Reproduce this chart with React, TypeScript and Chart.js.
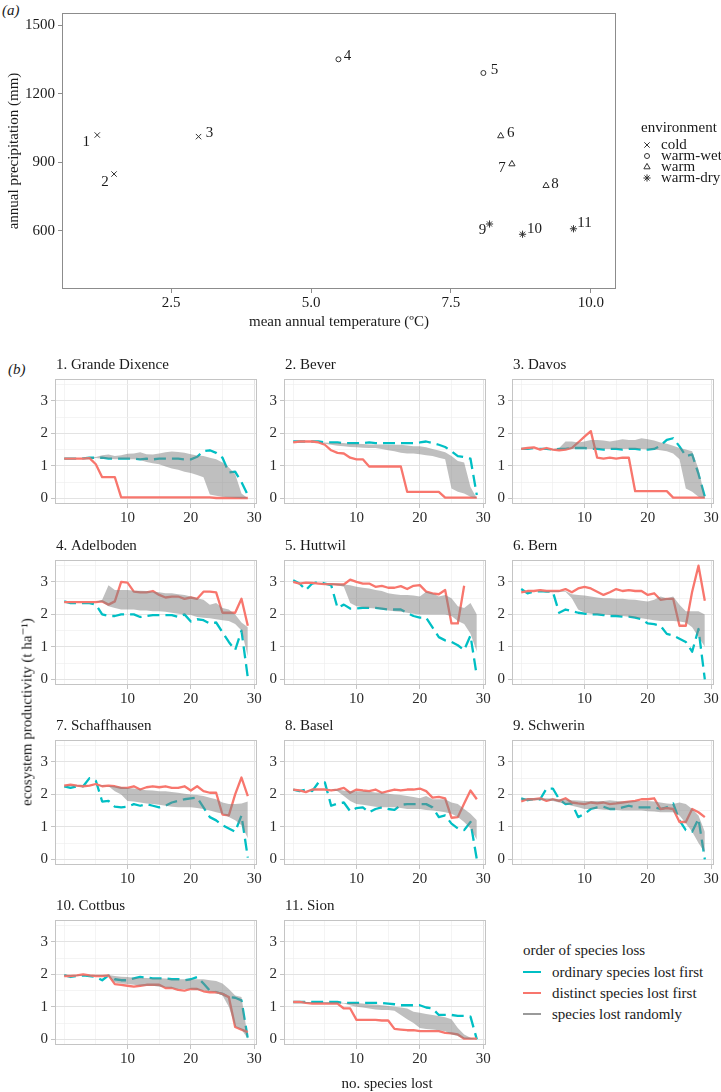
import React, { useEffect, useRef } from 'react';
import { Chart, registerables } from 'chart.js';
import { drawPoint } from 'chart.js/helpers';
Chart.register(...registerables);

const SERIF = '"Liberation Serif", "Times New Roman", Times, "DejaVu Serif", serif';
const FS = 15;
const TEAL = '#00BFC4';
const RED = '#F8766D';
const BAND = 'rgba(127,127,127,0.5)';
const INK = '#1a1a1a';
const TICK_INK = '#2b2b2b';

// ---------- panel (a) data ----------
const siteNumbers = ['1', '2', '3', '4', '5', '6', '7', '8', '9', '10', '11'];
const meanTemp = [1.18, 1.48, 2.99, 5.49, 8.08, 8.39, 8.59, 9.2, 8.19, 8.78, 9.69];
const annualPrecip = [1020, 849, 1013, 1352, 1292, 1016, 893, 798, 630, 585, 609];
const siteEnv = ['cold', 'cold', 'cold', 'warm-wet', 'warm-wet', 'warm', 'warm', 'warm', 'warm-dry', 'warm-dry', 'warm-dry'];
const envLevels = ['cold', 'warm-wet', 'warm', 'warm-dry'];
const tempTicks = [2.5, 5, 7.5, 10];
const tempTickLabels = ['2.5', '5.0', '7.5', '10.0'];
const precipTicks = [600, 900, 1200, 1500];

// ---------- panel (b) data ----------
const speciesLost = [0, 1, 2, 3, 4, 5, 6, 7, 8, 9, 10, 11, 12, 13, 14, 15, 16, 17, 18, 19, 20, 21, 22, 23, 24, 25, 26, 27, 28, 29];
const productivityTicks = [0, 1, 2, 3];
const speciesLostTicks = [10, 20, 30];
const panelTitles = ['1. Grande Dixence', '2. Bever', '3. Davos', '4. Adelboden', '5. Huttwil', '6. Bern', '7. Schaffhausen', '8. Basel', '9. Schwerin', '10. Cottbus', '11. Sion'];
const lossOrders = ['ordinary species lost first', 'distinct species lost first', 'species lost randomly'];

const grandeDixenceOrdinary = [1.22, 1.22, 1.22, 1.23, 1.25, 1.25, 1.25, 1.22, 1.22, 1.22, 1.22, 1.22, 1.2, 1.22, 1.2, 1.22, 1.22, 1.22, 1.22, 1.2, 1.2, 1.28, 1.45, 1.48, 1.4, 1.25, 0.8, 0.82, 0.5, 0.1];
const grandeDixenceDistinct = [1.22, 1.22, 1.22, 1.22, 1.24, 1.05, 0.65, 0.65, 0.65, 0.03, 0.03, 0.03, 0.03, 0.03, 0.03, 0.03, 0.03, 0.03, 0.03, 0.03, 0.03, 0.03, 0.03, 0.03, 0.01, 0.01, 0.01, 0.01, 0.01, 0.01];
const grandeDixenceRandomLow = [1.22, 1.22, 1.22, 1.22, 1.22, 1.24, 1.22, 1.22, 1.2, 1.2, 1.2, 1.2, 1.18, 1.12, 1.08, 1.05, 0.98, 0.92, 0.88, 0.82, 0.78, 0.72, 0.65, 0.12, 0.08, 0.05, 0.03, 0.02, 0.0, 0.0];
const grandeDixenceRandomHigh = [1.22, 1.22, 1.22, 1.22, 1.25, 1.27, 1.33, 1.35, 1.3, 1.33, 1.37, 1.38, 1.42, 1.36, 1.35, 1.38, 1.42, 1.44, 1.43, 1.4, 1.36, 1.32, 1.3, 1.25, 1.2, 1.1, 0.95, 0.75, 0.15, 0.0];

const beverOrdinary = [1.75, 1.75, 1.75, 1.75, 1.75, 1.72, 1.72, 1.72, 1.7, 1.7, 1.7, 1.7, 1.72, 1.7, 1.7, 1.7, 1.7, 1.7, 1.7, 1.7, 1.72, 1.75, 1.7, 1.65, 1.58, 1.45, 1.3, 1.27, 1.22, 0.1];
const beverDistinct = [1.72, 1.75, 1.75, 1.75, 1.72, 1.65, 1.48, 1.4, 1.38, 1.25, 1.2, 1.2, 0.98, 0.98, 0.98, 0.98, 0.98, 0.98, 0.2, 0.2, 0.2, 0.2, 0.2, 0.2, 0.02, 0.02, 0.02, 0.02, 0.02, 0.02];
const beverRandomLow = [1.72, 1.75, 1.75, 1.75, 1.72, 1.68, 1.65, 1.62, 1.6, 1.58, 1.57, 1.56, 1.55, 1.55, 1.52, 1.48, 1.45, 1.4, 1.38, 1.38, 1.36, 1.33, 1.3, 1.25, 1.2, 0.3, 0.2, 0.15, 0.05, 0.0];
const beverRandomHigh = [1.72, 1.75, 1.75, 1.75, 1.72, 1.72, 1.7, 1.7, 1.7, 1.68, 1.68, 1.67, 1.66, 1.66, 1.66, 1.65, 1.65, 1.65, 1.63, 1.6, 1.6, 1.57, 1.52, 1.47, 1.42, 1.3, 1.15, 1.1, 0.35, 0.0];

const davosOrdinary = [1.52, 1.52, 1.55, 1.52, 1.52, 1.5, 1.52, 1.52, 1.55, 1.55, 1.55, 1.52, 1.52, 1.5, 1.52, 1.52, 1.5, 1.52, 1.52, 1.5, 1.5, 1.52, 1.62, 1.8, 1.85, 1.6, 1.3, 1.35, 0.75, 0.05];
const davosDistinct = [1.52, 1.55, 1.57, 1.5, 1.55, 1.5, 1.48, 1.5, 1.55, 1.72, 1.9, 2.07, 1.25, 1.22, 1.25, 1.22, 1.25, 1.25, 0.22, 0.22, 0.22, 0.22, 0.22, 0.22, 0.02, 0.02, 0.02, 0.02, 0.02, 0.02];
const davosRandomLow = [1.52, 1.52, 1.55, 1.52, 1.52, 1.5, 1.5, 1.5, 1.52, 1.52, 1.52, 1.52, 1.52, 1.52, 1.52, 1.52, 1.52, 1.52, 1.52, 1.52, 1.5, 1.5, 1.48, 1.45, 1.38, 1.2, 0.3, 0.2, 0.05, 0.0];
const davosRandomHigh = [1.52, 1.52, 1.55, 1.52, 1.52, 1.52, 1.55, 1.75, 1.75, 1.72, 1.75, 1.8, 1.8, 1.78, 1.75, 1.78, 1.82, 1.8, 1.8, 1.85, 1.82, 1.78, 1.72, 1.68, 1.62, 1.55, 1.5, 1.45, 0.9, 0.05];

const adelbodenOrdinary = [2.4, 2.35, 2.35, 2.35, 2.35, 2.3, 2.0, 1.95, 1.95, 2.0, 2.0, 2.0, 1.92, 1.95, 1.98, 1.98, 1.98, 1.98, 1.92, 2.0, 1.78, 1.85, 1.82, 1.72, 1.75, 1.45, 1.15, 0.9, 1.5, 0.05];
const adelbodenDistinct = [2.38, 2.38, 2.38, 2.38, 2.38, 2.38, 2.4, 2.3, 2.4, 3.0, 2.98, 2.7, 2.68, 2.68, 2.72, 2.6, 2.52, 2.55, 2.55, 2.48, 2.52, 2.48, 2.7, 2.7, 2.68, 2.05, 2.05, 2.05, 2.48, 1.65];
const adelbodenRandomLow = [2.38, 2.38, 2.38, 2.38, 2.38, 2.38, 2.38, 2.25, 2.2, 2.15, 2.15, 2.15, 2.12, 2.12, 2.1, 2.1, 2.08, 2.05, 2.02, 2.0, 1.98, 1.92, 1.9, 1.88, 1.85, 1.82, 1.8, 1.7, 1.5, 0.7];
const adelbodenRandomHigh = [2.38, 2.38, 2.38, 2.38, 2.38, 2.38, 2.45, 2.9, 2.75, 2.75, 2.75, 2.73, 2.73, 2.72, 2.7, 2.68, 2.65, 2.65, 2.62, 2.6, 2.55, 2.5, 2.45, 2.3, 2.35, 2.2, 2.15, 2.0, 1.75, 1.6];

const huttwilOrdinary = [3.05, 2.95, 2.75, 2.95, 3.0, 2.95, 2.9, 2.2, 2.3, 2.18, 2.18, 2.2, 2.2, 2.2, 2.18, 2.15, 2.15, 2.15, 2.05, 1.95, 1.9, 1.9, 1.6, 1.3, 1.2, 1.15, 1.05, 0.9, 1.35, 0.1];
const huttwilDistinct = [3.0, 2.95, 2.98, 2.97, 2.95, 2.93, 2.93, 2.92, 2.92, 3.07, 3.0, 2.95, 2.95, 2.85, 2.88, 2.82, 2.82, 2.87, 2.78, 2.88, 2.9, 2.7, 2.65, 2.62, 2.75, 1.72, 1.72, 2.88, null, null];
const huttwilRandomLow = [3.0, 2.97, 2.97, 2.96, 2.95, 2.93, 2.92, 2.9, 2.85, 2.35, 2.25, 2.22, 2.2, 2.18, 2.15, 2.12, 2.1, 2.08, 2.05, 2.02, 2.0, 2.0, 2.0, 2.0, 2.0, 1.95, 1.8, 1.7, 1.4, 0.85];
const huttwilRandomHigh = [3.0, 2.97, 2.97, 2.96, 2.95, 2.95, 2.95, 2.95, 2.92, 2.9, 2.85, 2.82, 2.8, 2.75, 2.72, 2.65, 2.62, 2.6, 2.6, 2.58, 2.55, 2.7, 2.65, 2.55, 2.6, 2.5, 2.25, 2.2, 2.35, 2.0];

const bernOrdinary = [2.78, 2.65, 2.7, 2.72, 2.7, 2.7, 2.05, 2.15, 2.1, 2.05, 2.02, 2.0, 2.0, 1.98, 1.95, 1.95, 1.93, 1.93, 1.9, 1.85, 1.72, 1.7, 1.65, 1.4, 1.35, 1.25, 1.15, 0.85, 1.55, 0.0];
const bernDistinct = [2.68, 2.72, 2.72, 2.75, 2.72, 2.72, 2.72, 2.78, 2.68, 2.8, 2.85, 2.8, 2.7, 2.6, 2.68, 2.78, 2.72, 2.75, 2.72, 2.72, 2.6, 2.65, 2.45, 2.48, 2.48, 1.65, 1.65, 2.7, 3.5, 2.42];
const bernRandomLow = [2.72, 2.7, 2.7, 2.72, 2.7, 2.7, 2.7, 2.7, 2.5, 2.15, 2.05, 2.02, 2.0, 2.0, 1.98, 1.97, 1.95, 1.93, 1.9, 1.88, 1.85, 1.82, 1.8, 1.8, 1.8, 1.78, 1.75, 1.6, 1.3, 1.0];
const bernRandomHigh = [2.72, 2.7, 2.7, 2.72, 2.72, 2.72, 2.72, 2.72, 2.62, 2.6, 2.58, 2.55, 2.52, 2.5, 2.5, 2.48, 2.48, 2.46, 2.45, 2.42, 2.4, 2.45, 2.55, 2.5, 2.55, 2.3, 2.1, 2.1, 2.1, 2.0];

const schaffhausenOrdinary = [2.25, 2.2, 2.25, 2.25, 2.5, 2.42, 1.78, 1.8, 1.62, 1.6, 1.62, 1.7, 1.65, 1.7, 1.65, 1.6, 1.65, 1.75, 1.8, 1.85, 1.88, 1.9, 1.6, 1.3, 1.2, 1.05, 0.95, 0.85, 1.35, 0.05];
const schaffhausenDistinct = [2.27, 2.3, 2.27, 2.25, 2.27, 2.32, 2.25, 2.27, 2.25, 2.2, 2.2, 2.25, 2.15, 2.22, 2.25, 2.22, 2.25, 2.2, 2.2, 2.25, 2.12, 2.25, 2.1, 2.05, 2.05, 1.38, 1.35, 2.0, 2.52, 1.95];
const schaffhausenRandomLow = [2.27, 2.25, 2.25, 2.25, 2.27, 2.27, 2.25, 2.25, 2.1, 2.0, 1.8, 1.78, 1.75, 1.72, 1.7, 1.68, 1.65, 1.62, 1.6, 1.6, 1.6, 1.58, 1.55, 1.5, 1.45, 1.4, 1.3, 1.2, 1.05, 0.65];
const schaffhausenRandomHigh = [2.27, 2.27, 2.27, 2.27, 2.27, 2.27, 2.27, 2.26, 2.25, 2.23, 2.2, 2.18, 2.15, 2.13, 2.12, 2.1, 2.1, 2.07, 2.05, 2.02, 2.0, 1.98, 1.95, 1.9, 1.85, 1.75, 1.7, 1.7, 1.72, 1.78];

const baselOrdinary = [2.15, 2.1, 2.15, 2.1, 2.37, 2.37, 1.65, 1.72, 1.75, 1.48, 1.58, 1.6, 1.45, 1.55, 1.6, 1.55, 1.52, 1.68, 1.7, 1.7, 1.7, 1.7, 1.6, 1.3, 1.35, 1.1, 0.95, 0.9, 1.15, 0.0];
const baselDistinct = [2.15, 2.12, 2.07, 2.15, 2.15, 2.15, 2.12, 2.15, 2.2, 2.05, 2.15, 2.12, 2.1, 2.15, 2.05, 2.1, 2.15, 2.12, 2.15, 2.15, 2.18, 2.1, 1.9, 1.92, 1.88, 1.28, 1.3, 1.72, 2.12, 1.85];
const baselRandomLow = [2.15, 2.12, 2.12, 2.12, 2.15, 2.15, 2.15, 2.1, 1.95, 1.8, 1.7, 1.68, 1.65, 1.62, 1.6, 1.6, 1.6, 1.58, 1.55, 1.55, 1.55, 1.52, 1.5, 1.48, 1.45, 1.4, 1.3, 1.15, 0.95, 0.6];
const baselRandomHigh = [2.15, 2.12, 2.12, 2.15, 2.15, 2.15, 2.15, 2.15, 2.12, 2.1, 2.1, 2.1, 2.08, 2.06, 2.05, 2.02, 2.0, 1.98, 1.95, 1.92, 1.88, 1.95, 1.85, 1.85, 1.85, 1.75, 1.7, 1.55, 1.4, 1.2];

const schwerinOrdinary = [1.88, 1.82, 1.85, 1.85, 2.18, 2.18, 1.85, 1.7, 1.72, 1.3, 1.4, 1.55, 1.6, 1.62, 1.55, 1.55, 1.6, 1.65, 1.6, 1.6, 1.6, 1.6, 1.55, 1.6, 1.72, 1.2, 0.9, 0.85, 1.25, 0.0];
const schwerinDistinct = [1.78, 1.85, 1.85, 1.88, 1.8, 1.85, 1.8, 1.88, 1.75, 1.72, 1.7, 1.75, 1.72, 1.75, 1.7, 1.72, 1.75, 1.78, 1.8, 1.85, 1.85, 1.88, 1.55, 1.58, 1.55, 1.15, 1.15, 1.55, 1.45, 1.3];
const schwerinRandomLow = [1.82, 1.82, 1.82, 1.82, 1.82, 1.8, 1.75, 1.7, 1.65, 1.6, 1.55, 1.55, 1.55, 1.53, 1.52, 1.52, 1.5, 1.5, 1.5, 1.5, 1.48, 1.47, 1.45, 1.45, 1.45, 1.35, 1.1, 0.85, 0.5, 0.2];
const schwerinRandomHigh = [1.88, 1.88, 1.88, 1.88, 1.88, 1.87, 1.85, 1.84, 1.82, 1.81, 1.8, 1.8, 1.8, 1.8, 1.82, 1.8, 1.78, 1.79, 1.8, 1.8, 1.8, 1.78, 1.75, 1.72, 1.7, 1.75, 1.7, 1.55, 1.35, 0.85];

const cottbusOrdinary = [1.98, 1.92, 1.95, 1.97, 1.95, 1.92, 1.82, 1.97, 1.85, 1.82, 1.82, 1.88, 1.92, 1.9, 1.88, 1.88, 1.88, 1.85, 1.85, 1.82, 1.85, 1.92, 1.72, 1.5, 1.45, 1.4, 1.3, 1.28, 1.2, 0.02];
const cottbusDistinct = [1.95, 1.95, 1.97, 2.0, 1.97, 1.95, 1.95, 1.97, 1.7, 1.68, 1.65, 1.62, 1.65, 1.68, 1.68, 1.68, 1.58, 1.58, 1.52, 1.5, 1.55, 1.55, 1.48, 1.45, 1.45, 1.4, 1.3, 0.38, 0.3, 0.22];
const cottbusRandomLow = [1.96, 1.95, 1.95, 1.96, 1.95, 1.95, 1.95, 1.95, 1.75, 1.72, 1.7, 1.68, 1.65, 1.65, 1.65, 1.62, 1.6, 1.58, 1.55, 1.55, 1.55, 1.52, 1.5, 1.48, 1.45, 1.35, 1.0, 0.4, 0.3, 0.02];
const cottbusRandomHigh = [1.98, 1.97, 1.97, 1.98, 1.97, 1.97, 1.97, 1.98, 1.95, 1.93, 1.92, 1.9, 1.9, 1.89, 1.88, 1.88, 1.87, 1.86, 1.85, 1.85, 1.85, 1.85, 1.85, 1.82, 1.8, 1.72, 1.55, 1.35, 1.3, 0.05];

const sionOrdinary = [1.15, 1.15, 1.15, 1.15, 1.15, 1.15, 1.15, 1.15, 1.12, 1.12, 1.12, 1.12, 1.12, 1.12, 1.12, 1.1, 1.08, 1.05, 1.05, 1.05, 1.05, 0.98, 0.95, 0.75, 0.75, 0.75, 0.72, 0.72, 0.7, 0.0];
const sionDistinct = [1.15, 1.15, 1.12, 1.1, 1.1, 1.1, 1.1, 1.1, 0.95, 0.95, 0.6, 0.6, 0.6, 0.6, 0.58, 0.58, 0.32, 0.3, 0.28, 0.28, 0.25, 0.25, 0.25, 0.25, 0.2, 0.18, 0.15, 0.02, 0.02, 0.02];
const sionRandomLow = [1.15, 1.15, 1.12, 1.12, 1.12, 1.12, 1.1, 1.1, 1.1, 1.05, 1.0, 0.98, 0.95, 0.92, 0.9, 0.9, 0.88, 0.75, 0.62, 0.5, 0.35, 0.32, 0.3, 0.28, 0.25, 0.15, 0.1, 0.02, 0.0, 0.0];
const sionRandomHigh = [1.15, 1.15, 1.15, 1.15, 1.15, 1.15, 1.15, 1.15, 1.12, 1.12, 1.12, 1.1, 1.08, 1.07, 1.05, 1.03, 1.0, 0.98, 0.95, 0.85, 0.82, 0.78, 0.75, 0.72, 0.68, 0.62, 0.35, 0.15, 0.05, 0.0];

const panels = [
  { ordinary: grandeDixenceOrdinary, distinct: grandeDixenceDistinct, low: grandeDixenceRandomLow, high: grandeDixenceRandomHigh },
  { ordinary: beverOrdinary, distinct: beverDistinct, low: beverRandomLow, high: beverRandomHigh },
  { ordinary: davosOrdinary, distinct: davosDistinct, low: davosRandomLow, high: davosRandomHigh },
  { ordinary: adelbodenOrdinary, distinct: adelbodenDistinct, low: adelbodenRandomLow, high: adelbodenRandomHigh },
  { ordinary: huttwilOrdinary, distinct: huttwilDistinct, low: huttwilRandomLow, high: huttwilRandomHigh },
  { ordinary: bernOrdinary, distinct: bernDistinct, low: bernRandomLow, high: bernRandomHigh },
  { ordinary: schaffhausenOrdinary, distinct: schaffhausenDistinct, low: schaffhausenRandomLow, high: schaffhausenRandomHigh },
  { ordinary: baselOrdinary, distinct: baselDistinct, low: baselRandomLow, high: baselRandomHigh },
  { ordinary: schwerinOrdinary, distinct: schwerinDistinct, low: schwerinRandomLow, high: schwerinRandomHigh },
  { ordinary: cottbusOrdinary, distinct: cottbusDistinct, low: cottbusRandomLow, high: cottbusRandomHigh },
  { ordinary: sionOrdinary, distinct: sionDistinct, low: sionRandomLow, high: sionRandomHigh },
];

// ---------- layout / style (not data) ----------
const COL_LEFT = [55, 284, 512];
const ROW_TOP = [379, 560, 740, 920];
const PW = 202;
const PH = 125;
const Y_AXIS_W = 30;
const TITLE_H = 24;
const X_AXIS_H = 22;
const PAD_R = 12;

const envStyle: Record<string, { pointStyle: string; radius: number }> = {
  cold: { pointStyle: 'crossRot', radius: 3.8 },
  'warm-wet': { pointStyle: 'circle', radius: 2.5 },
  warm: { pointStyle: 'triangle', radius: 3.6 },
  'warm-dry': { pointStyle: 'star', radius: 3.6 },
};
// label offsets (dx, dy) of each site's number relative to its marker
const labelOffsets = [[-11, 7], [-9, 8], [11, -4], [9, -3], [11, -3], [10, -3], [-10, 4], [9, -2], [-7, 6], [12, -5], [11, -6]];

const framePlugin = {
  id: 'frame',
  afterDraw(chart: any, _a: any, opts: any) {
    const { ctx, chartArea: a } = chart;
    ctx.save();
    ctx.strokeStyle = opts.color || '#b3b3b3';
    ctx.lineWidth = opts.width || 1;
    ctx.strokeRect(Math.round(a.left) + 0.5, Math.round(a.top) + 0.5, Math.round(a.right - a.left) - 1, Math.round(a.bottom - a.top) - 1);
    ctx.restore();
  },
};

const titlePlugin = {
  id: 'panelTitle',
  afterDraw(chart: any, _a: any, opts: any) {
    if (!opts || !opts.text) return;
    const { ctx, chartArea } = chart;
    ctx.save();
    ctx.font = `${FS}px ${SERIF}`;
    ctx.fillStyle = INK;
    ctx.textAlign = 'left';
    ctx.textBaseline = 'middle';
    ctx.fillText(opts.text, chartArea.left + 1, chartArea.top - 14);
    ctx.restore();
  },
};

const siteLabelPlugin = {
  id: 'siteLabels',
  afterDatasetsDraw(chart: any) {
    const { ctx } = chart;
    ctx.save();
    ctx.font = `${FS}px ${SERIF}`;
    ctx.fillStyle = INK;
    ctx.textAlign = 'center';
    ctx.textBaseline = 'middle';
    chart.data.datasets.forEach((ds: any, di: number) => {
      const meta = chart.getDatasetMeta(di);
      meta.data.forEach((el: any, i: number) => {
        const raw = ds.data[i];
        const off = labelOffsets[raw.site];
        ctx.fillText(siteNumbers[raw.site], el.x + off[0], el.y + off[1]);
      });
    });
    ctx.restore();
  },
};

const envLegendPlugin = {
  id: 'envLegend',
  afterDraw(chart: any) {
    const { ctx } = chart;
    ctx.save();
    ctx.font = `${FS}px ${SERIF}`;
    ctx.fillStyle = INK;
    ctx.textAlign = 'left';
    ctx.textBaseline = 'middle';
    ctx.fillText('environment', 641, 128);
    envLevels.forEach((env, i) => {
      const y = 145 + i * 11;
      ctx.fillText(env, 661, y);
      ctx.strokeStyle = '#333';
      ctx.fillStyle = 'rgba(0,0,0,0)';
      ctx.lineWidth = 1;
      drawPoint(ctx, { pointStyle: envStyle[env].pointStyle as any, radius: envStyle[env].radius, rotation: 0, borderWidth: 1 }, 647, y);
      ctx.fillStyle = INK;
    });
    ctx.textAlign = 'center';
    const a = chart.chartArea;
    ctx.fillText('mean annual temperature (ºC)', (a.left + a.right) / 2, 322);
    ctx.translate(14, (a.top + a.bottom) / 2);
    ctx.rotate(-Math.PI / 2);
    ctx.fillText('annual precipitation (mm)', 0, 0);
    ctx.restore();
  },
};

function makeScatterConfig(): any {
  const datasets = envLevels.map((env) => ({
    label: env,
    data: siteNumbers
      .map((_, i) => ({ x: meanTemp[i], y: annualPrecip[i], site: i, env: siteEnv[i] }))
      .filter((d) => d.env === env),
    pointStyle: envStyle[env].pointStyle,
    pointRadius: envStyle[env].radius,
    borderColor: '#333',
    backgroundColor: 'rgba(0,0,0,0)',
    borderWidth: 1,
    showLine: false,
  }));
  return {
    type: 'scatter',
    data: { datasets },
    plugins: [framePlugin, siteLabelPlugin, envLegendPlugin],
    options: {
      animation: false,
      responsive: false,
      maintainAspectRatio: false,
      layout: { padding: { left: 0, top: 13, right: 105, bottom: 0 } },
      plugins: { legend: { display: false }, tooltip: { enabled: false }, frame: { color: '#8c8c8c', width: 1 } },
      scales: {
        x: {
          type: 'linear',
          min: 0.55,
          max: 10.45,
          afterBuildTicks: (s: any) => { s.ticks = tempTicks.map((value) => ({ value })); },
          afterFit: (s: any) => { s.height = 51; },
          border: { display: false },
          grid: { drawOnChartArea: false, drawTicks: true, tickLength: 4, tickColor: '#8c8c8c' },
          ticks: {
            autoSkip: false, maxRotation: 0, padding: 1, color: INK,
            font: { family: SERIF, size: FS },
            callback: (v: any) => tempTickLabels[tempTicks.indexOf(Number(v))] ?? '',
          },
        },
        y: {
          type: 'linear',
          min: 345,
          max: 1555,
          afterBuildTicks: (s: any) => { s.ticks = precipTicks.map((value) => ({ value })); },
          afterFit: (s: any) => { s.width = 62; },
          border: { display: false },
          grid: { drawOnChartArea: false, drawTicks: true, tickLength: 4, tickColor: '#8c8c8c' },
          ticks: { autoSkip: false, padding: 3, color: INK, font: { family: SERIF, size: FS }, callback: (v: any) => String(v) },
        },
      },
    },
  };
}

const xGrid = [0, 5, 10, 15, 20, 25, 30];
const yGrid = [0, 0.5, 1, 1.5, 2, 2.5, 3, 3.5];

function makePanelConfig(idx: number): any {
  const p = panels[idx];
  const pts = (arr: (number | null)[]) => speciesLost.map((x, i) => ({ x, y: arr[i] }));
  const isMajorX = (v: number) => speciesLostTicks.includes(v);
  const isMajorY = (v: number) => productivityTicks.includes(v);
  return {
    type: 'line',
    data: {
      datasets: [
        { label: lossOrders[2] + ' high', data: pts(p.high), fill: '+1', backgroundColor: BAND, borderColor: 'rgba(0,0,0,0)', borderWidth: 0, pointRadius: 0 },
        { label: lossOrders[2] + ' low', data: pts(p.low), fill: false, borderColor: 'rgba(0,0,0,0)', borderWidth: 0, pointRadius: 0 },
        { label: lossOrders[1], data: pts(p.distinct), fill: false, borderColor: RED, borderWidth: 2.3, pointRadius: 0, borderJoinStyle: 'round', spanGaps: false },
        { label: lossOrders[0], data: pts(p.ordinary), fill: false, borderColor: TEAL, borderWidth: 2.3, borderDash: [12, 6], pointRadius: 0, borderJoinStyle: 'round' },
      ],
    },
    plugins: [framePlugin, titlePlugin],
    options: {
      animation: false,
      responsive: false,
      maintainAspectRatio: false,
      layout: { padding: { left: 0, top: TITLE_H, right: PAD_R, bottom: 0 } },
      plugins: {
        legend: { display: false },
        tooltip: { enabled: false },
        frame: { color: '#c4c4c4', width: 1 },
        panelTitle: { text: panelTitles[idx] },
      },
      scales: {
        x: {
          type: 'linear',
          min: -1.45,
          max: 30.45,
          afterBuildTicks: (s: any) => { s.ticks = xGrid.map((value) => ({ value })); },
          afterFit: (s: any) => { s.height = X_AXIS_H; },
          border: { display: false },
          grid: {
            color: (c: any) => (c.tick && isMajorX(c.tick.value) ? '#e3e3e3' : '#efefef'),
            lineWidth: (c: any) => (c.tick && isMajorX(c.tick.value) ? 1 : 0.7),
            tickLength: 4,
            tickColor: (c: any) => (c.tick && isMajorX(c.tick.value) ? '#c4c4c4' : 'rgba(0,0,0,0)'),
          },
          ticks: {
            autoSkip: false, maxRotation: 0, padding: 1, color: TICK_INK,
            font: { family: SERIF, size: FS },
            callback: (v: any) => (isMajorX(Number(v)) ? String(v) : ''),
          },
        },
        y: {
          type: 'linear',
          min: -0.175,
          max: 3.675,
          afterBuildTicks: (s: any) => { s.ticks = yGrid.map((value) => ({ value })); },
          afterFit: (s: any) => { s.width = Y_AXIS_W; },
          border: { display: false },
          grid: {
            color: (c: any) => (c.tick && isMajorY(c.tick.value) ? '#e3e3e3' : '#efefef'),
            lineWidth: (c: any) => (c.tick && isMajorY(c.tick.value) ? 1 : 0.7),
            tickLength: 4,
            tickColor: (c: any) => (c.tick && isMajorY(c.tick.value) ? '#c4c4c4' : 'rgba(0,0,0,0)'),
          },
          ticks: {
            autoSkip: false, padding: 3, color: TICK_INK,
            font: { family: SERIF, size: FS },
            callback: (v: any) => (isMajorY(Number(v)) ? String(v) : ''),
          },
        },
      },
    },
  };
}

function ChartCanvas(props: { make: () => any; left: number; top: number; width: number; height: number }) {
  const ref = useRef<HTMLCanvasElement>(null);
  useEffect(() => {
    const chart = new Chart(ref.current as HTMLCanvasElement, props.make());
    return () => chart.destroy();
  }, []);
  return (
    <canvas
      ref={ref}
      width={props.width}
      height={props.height}
      style={{ position: 'absolute', left: props.left, top: props.top, width: props.width, height: props.height }}
    />
  );
}

const textStyle: React.CSSProperties = {
  position: 'absolute',
  fontFamily: SERIF,
  fontSize: FS,
  lineHeight: `${FS}px`,
  whiteSpace: 'nowrap',
  color: INK,
};

export default function App() {
  return (
    <div style={{ position: 'absolute', left: 0, top: 0, width: 721, height: 1092, background: '#fff', overflow: 'hidden' }}>
      <div style={{ ...textStyle, left: 2, top: 10, transform: 'translateY(-50%)', fontStyle: 'italic' }}>(a)</div>
      <ChartCanvas make={makeScatterConfig} left={0} top={0} width={721} height={340} />

      <div style={{ ...textStyle, left: 8, top: 369, transform: 'translateY(-50%)', fontStyle: 'italic' }}>(b)</div>
      {panels.map((_, i) => {
        const col = i % 3;
        const row = Math.floor(i / 3);
        return (
          <ChartCanvas
            key={i}
            make={() => makePanelConfig(i)}
            left={COL_LEFT[col] - Y_AXIS_W}
            top={ROW_TOP[row] - TITLE_H}
            width={Y_AXIS_W + PW + PAD_R}
            height={TITLE_H + PH + X_AXIS_H}
          />
        );
      })}
      <div style={{ ...textStyle, left: 27, top: 712, transform: 'translate(-50%, -50%) rotate(-90deg)' }}>
        ecosystem productivity (t ha⁻¹)
      </div>
      <div style={{ ...textStyle, left: 387, top: 1083, transform: 'translate(-50%, -50%)' }}>no. species lost</div>

      <div style={{ ...textStyle, left: 523, top: 950, transform: 'translateY(-50%)' }}>order of species loss</div>
      {lossOrders.map((name, i) => {
        const y = 972 + i * 21;
        const color = i === 0 ? TEAL : i === 1 ? RED : '#9a9a9a';
        return (
          <React.Fragment key={name}>
            <div style={{ position: 'absolute', left: 523, top: y - 1, width: 18, height: 2.3, background: color }} />
            <div style={{ ...textStyle, left: 552, top: y, transform: 'translateY(-50%)' }}>{name}</div>
          </React.Fragment>
        );
      })}
    </div>
  );
}
